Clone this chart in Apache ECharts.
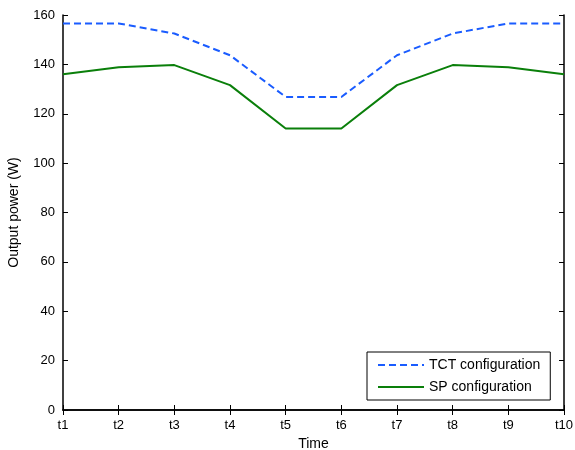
<!DOCTYPE html>
<html><head><meta charset="utf-8">
<script src="https://cdn.jsdelivr.net/npm/echarts@6/dist/echarts.min.js"></script>
<style>html,body{margin:0;padding:0;background:#fff}#c{width:575px;height:450px}</style>
</head><body><div id="c"></div>
<script>
const categories = ['t1','t2','t3','t4','t5','t6','t7','t8','t9','t10'];
const tctValues = [156.6,156.6,152.5,143.7,126.8,126.8,143.7,152.5,156.6,156.6];
const spValues = [136.0,138.8,139.7,131.6,114.0,114.0,131.6,139.7,138.8,136.0];
const yTicks = {min:0,max:160,interval:20};

const font = 'Liberation Sans, Arial, Helvetica, sans-serif';
const axisLine = {show:true,lineStyle:{color:'#000',width:1.5}};
const chart = echarts.init(document.getElementById('c'));
chart.setOption({
  animation:false,
  grid:{left:63,right:11,top:15,bottom:40,containLabel:false,outerBoundsMode:'none'},
  legend:{
    orient:'vertical',left:367,top:352,
    padding:[6,10,6,10],itemGap:8,
    itemWidth:46,itemHeight:14,
    backgroundColor:'#fff',borderColor:'#000',borderWidth:1,borderRadius:0,
    itemStyle:{opacity:0},
    lineStyle:{opacity:1},
    textStyle:{fontFamily:font,fontSize:14,color:'#000'},
    data:['TCT configuration','SP configuration']
  },
  xAxis:[{
    type:'category',data:categories,boundaryGap:false,
    name:'Time',nameLocation:'middle',nameGap:27,
    nameTextStyle:{fontFamily:font,fontSize:14,color:'#000'},
    axisLine:axisLine,
    axisTick:{show:true,inside:true,length:5,lineStyle:{color:'#000'}},
    axisLabel:{fontFamily:font,fontSize:13,color:'#000',margin:9},
    splitLine:{show:false}
  },{
    type:'category',data:categories,boundaryGap:false,position:'top',
    axisLine:axisLine,
    axisTick:{show:true,inside:true,length:5,lineStyle:{color:'#000'}},
    axisLabel:{show:false},splitLine:{show:false}
  }],
  yAxis:[{
    type:'value',min:yTicks.min,max:yTicks.max,interval:yTicks.interval,
    name:'Output power (W)',nameLocation:'middle',nameGap:42,
    nameTextStyle:{fontFamily:font,fontSize:14,color:'#000'},
    axisLine:axisLine,
    axisTick:{show:true,inside:true,length:5,lineStyle:{color:'#000'}},
    axisLabel:{fontFamily:font,fontSize:13,color:'#000',margin:8},
    splitLine:{show:false}
  },{
    type:'value',min:yTicks.min,max:yTicks.max,interval:yTicks.interval,position:'right',
    axisLine:axisLine,
    axisTick:{show:true,inside:true,length:5,lineStyle:{color:'#000'}},
    axisLabel:{show:false},splitLine:{show:false}
  }],
  series:[{
    name:'TCT configuration',type:'line',data:tctValues,symbol:'none',
    lineStyle:{color:'#1a5cff',width:2,type:[7,4]},itemStyle:{color:'#1a5cff'}
  },{
    name:'SP configuration',type:'line',data:spValues,symbol:'none',
    lineStyle:{color:'#0a7f0a',width:2},itemStyle:{color:'#0a7f0a'}
  }]
});
</script></body></html>
